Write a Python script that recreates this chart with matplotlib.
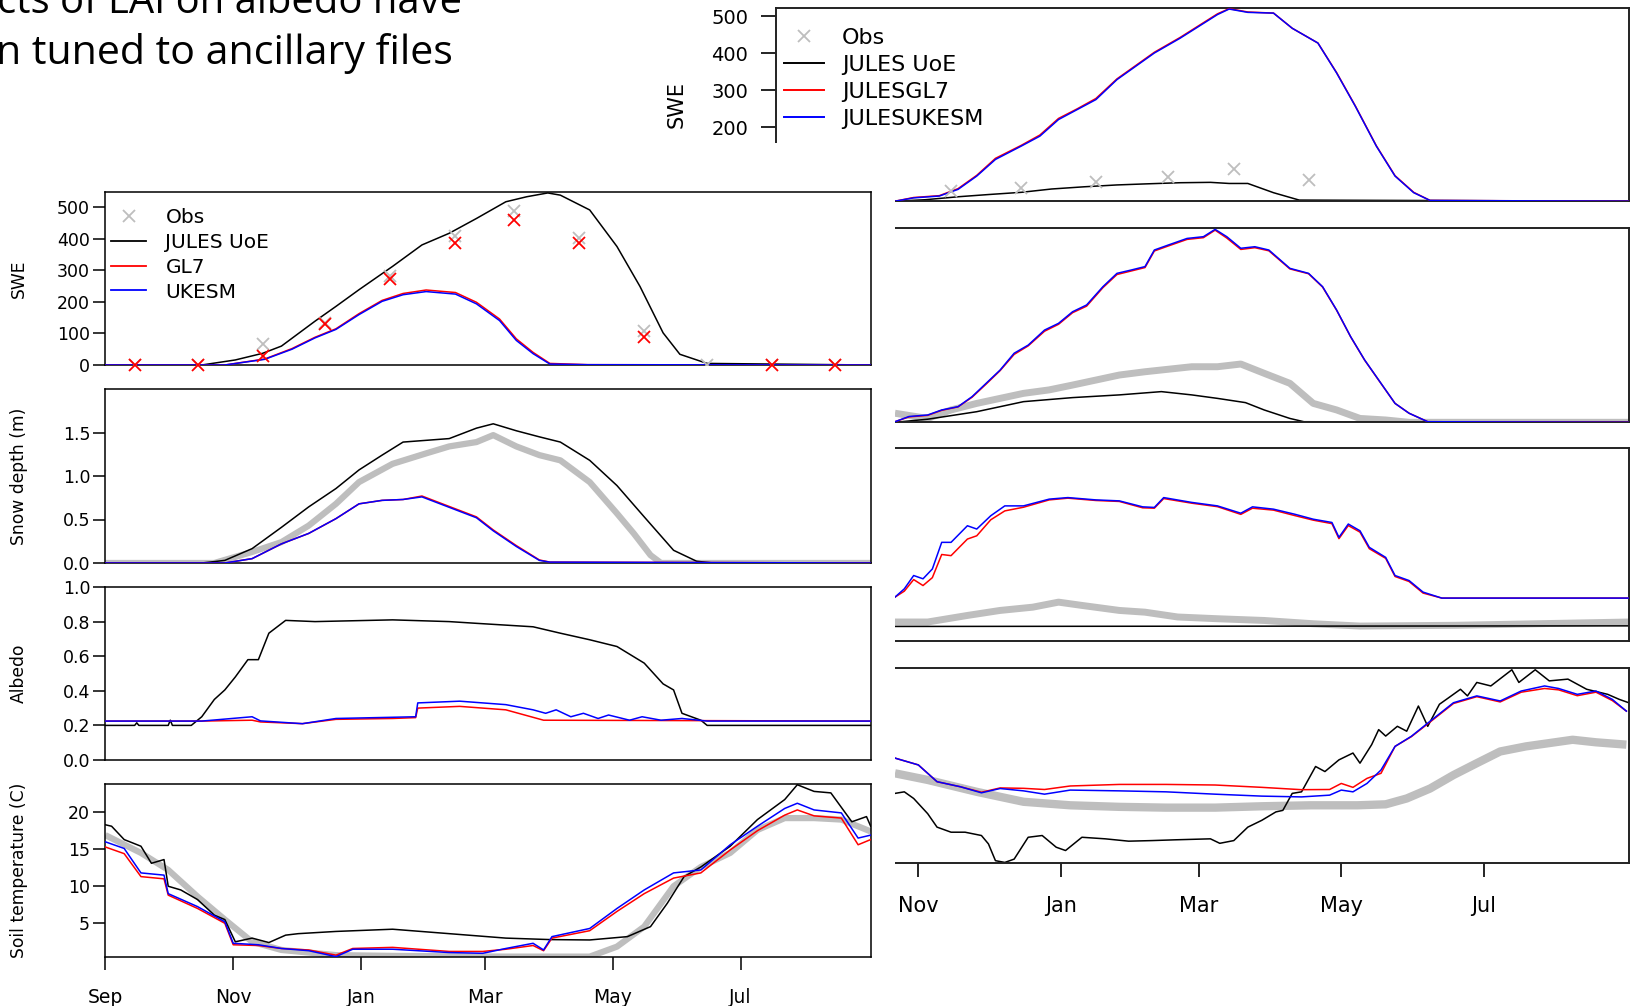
import numpy as np
import matplotlib
matplotlib.use("Agg")
import matplotlib.pyplot as plt
from matplotlib.lines import Line2D
from matplotlib.patches import Rectangle

W, H = 1635, 1006
OBS = "#bebebe"; UOE = "black"; GL7 = "#ff0000"; UKESM = "#0000ff"

# days counted from 1 Sep
MONTH_DAYS = [0, 61, 122, 181, 242, 303]
MONTH_LABELS = ["Sep", "Nov", "Jan", "Mar", "May", "Jul"]

# ---------------- left site ----------------
# SWE
L_SWE_OBS_DAYS = [14, 44, 75, 105, 136, 167, 195, 226, 257, 287, 318, 348]
L_SWE_OBS = [0, 0, 67, 134, 283, 410, 489, 402, 107, 0, 0, 0]
L_SWE_OBS2 = [0, 0, 30, 130, 273, 386, 460, 386, 89, np.nan, 0, 0]
L_SWE_UOE_DAYS = [0, 46, 62, 75, 84, 100, 110, 121, 137, 151, 164, 177, 191, 201, 211,
                  217, 231, 244, 255, 266, 274, 287, 365]
L_SWE_UOE = [0, 0, 16, 37, 60, 139, 186, 239, 313, 381, 418, 465, 518, 534, 546,
             539, 492, 376, 249, 102, 34, 5, 0]
L_SWE_MOD_DAYS = [0, 57, 76, 89, 100, 110, 121, 132, 142, 153, 167, 177, 188, 196, 204,
                  212, 230, 365]
L_SWE_GL7 = [0, 0, 19, 52, 88, 115, 163, 205, 227, 238, 230, 199, 146, 83, 40, 5, 1, 0]
L_SWE_UKESM = [0, 0, 18, 50, 86, 113, 160, 202, 223, 233, 225, 194, 141, 78, 36, 3, 1, 0]

# snow depth (m)
L_DEP_OBS_DAYS = [0, 52, 70, 84, 97, 110, 121, 137, 153, 164, 177, 185, 196, 207, 217,
                  231, 244, 252, 260, 265, 365]
L_DEP_OBS = [0, 0, 0.127, 0.24, 0.43, 0.68, 0.93, 1.14, 1.26, 1.34, 1.39, 1.47, 1.34,
             1.24, 1.18, 0.93, 0.57, 0.34, 0.09, 0, 0]
L_DEP_UOE_DAYS = [0, 46, 57, 70, 84, 97, 110, 121, 132, 142, 153, 164, 177, 185, 196,
                  207, 217, 231, 244, 257, 271, 282, 290, 365]
L_DEP_UOE = [0, 0, 0.03, 0.165, 0.41, 0.645, 0.856, 1.07, 1.24, 1.39, 1.41, 1.43, 1.55,
             1.60, 1.52, 1.45, 1.39, 1.18, 0.89, 0.53, 0.146, 0.02, 0, 0]
L_DEP_MOD_DAYS = [0, 57, 70, 84, 97, 110, 121, 132, 142, 151, 164, 177, 185, 196, 207,
                  212, 365]
L_DEP_GL7 = [0, 0, 0.05, 0.22, 0.34, 0.51, 0.68, 0.72, 0.73, 0.77, 0.65, 0.53, 0.38,
             0.20, 0.035, 0.01, 0]
L_DEP_UKESM = [0, 0, 0.05, 0.22, 0.34, 0.51, 0.68, 0.72, 0.73, 0.76, 0.64, 0.52, 0.37,
               0.19, 0.03, 0.01, 0]

# albedo
L_ALB_UOE_DAYS = [0, 14, 15, 16, 30, 31, 32, 41, 46, 52, 57, 62, 68, 73, 78, 86, 100,
                  137, 164, 177, 204, 217, 231, 244, 257, 266, 271, 275, 284, 287, 365]
L_ALB_UOE = [0.2, 0.2, 0.215, 0.2, 0.2, 0.23, 0.2, 0.2, 0.25, 0.35, 0.405, 0.48, 0.58,
             0.58, 0.733, 0.807, 0.80, 0.81, 0.80, 0.79, 0.77, 0.733, 0.695, 0.656,
             0.56, 0.44, 0.405, 0.27, 0.23, 0.2, 0.2]
L_ALB_UKESM_DAYS = [0, 46, 70, 74, 94, 110, 137, 148, 149, 169, 191, 204, 210, 215, 222,
                    228, 235, 240, 250, 256, 265, 275, 287, 365]
L_ALB_UKESM = [0.225, 0.225, 0.25, 0.226, 0.21, 0.24, 0.247, 0.25, 0.33, 0.34, 0.32,
               0.29, 0.27, 0.29, 0.25, 0.27, 0.24, 0.26, 0.23, 0.25, 0.23, 0.24, 0.225,
               0.225]
L_ALB_GL7_DAYS = [0, 46, 70, 74, 94, 110, 137, 148, 149, 169, 191, 200, 209, 365]
L_ALB_GL7 = [0.225, 0.225, 0.23, 0.22, 0.21, 0.235, 0.24, 0.245, 0.30, 0.31, 0.29,
             0.26, 0.23, 0.225]

# soil temperature (C)
L_TS_OBS_DAYS = [0, 17, 30, 44, 57, 70, 84, 110, 137, 191, 231, 244, 257, 271, 284, 298,
                 311, 324, 338, 351, 365]
L_TS_OBS = [16.9, 14.5, 12.2, 8.6, 5.5, 2.5, 1.4, 0.7, 0.6, 0.5, 0.5, 1.85, 4.55, 10.0,
            12.6, 14.5, 17.6, 19.2, 19.2, 19.0, 17.4]
L_TS_UOE_DAYS = [0, 3, 9, 17, 22, 28, 30, 36, 44, 52, 57, 62, 70, 78, 86, 92, 110, 137,
                 164, 191, 212, 231, 249, 260, 268, 276, 284, 298, 311, 324, 330, 338,
                 346, 356, 363, 365]
L_TS_UOE = [18.3, 18.1, 16.3, 15.4, 13.1, 13.6, 10.0, 9.5, 8.2, 6.1, 5.5, 2.5, 3.0, 2.4,
            3.4, 3.6, 3.9, 4.2, 3.6, 3.0, 2.8, 2.75, 3.2, 4.55, 7.7, 11.3, 12.6, 15.4,
            19.0, 21.7, 23.7, 22.8, 22.6, 18.7, 19.4, 18.1]
L_TS_MOD_DAYS = [0, 9, 17, 28, 30, 44, 57, 61, 73, 84, 97, 110, 118, 137, 164, 180, 191,
                 204, 209, 213, 231, 244, 257, 271, 284, 298, 311, 324, 330, 338, 351,
                 359, 365]
L_TS_UKESM = [16.0, 15.1, 11.8, 11.5, 9.0, 7.25, 5.2, 2.3, 2.1, 1.6, 1.3, 0.5, 1.5, 1.5,
              1.05, 0.95, 1.6, 2.3, 1.4, 3.2, 4.3, 7.0, 9.5, 11.8, 12.2, 15.6, 18.1,
              20.5, 21.2, 20.3, 19.9, 16.5, 16.9]
L_TS_GL7 = [15.3, 14.4, 11.3, 11.0, 8.8, 7.0, 5.0, 2.1, 2.0, 1.6, 1.4, 0.7, 1.6, 1.75,
            1.2, 1.2, 1.5, 2.0, 1.3, 3.0, 4.0, 6.6, 9.0, 11.1, 11.8, 14.9, 17.5, 19.6,
            20.3, 19.5, 19.2, 15.6, 16.3]

# ---------------- right site ----------------
R_SWE_OBS_DAYS = [75, 105, 137, 168, 196, 228]
R_SWE_OBS = [27, 35, 51, 65, 88, 57]
R_SWE_UOE_DAYS = [0, 51, 64, 78, 91, 105, 118, 132, 146, 159, 173, 186, 194, 202, 213,
                  224, 365]
R_SWE_UOE = [0, 0, 4, 12, 18, 24, 33, 39, 44, 47, 50, 51, 48, 48, 23, 3, 0]
R_SWE_MOD_DAYS = [0, 51, 59, 70, 78, 86, 94, 105, 113, 121, 129, 137, 146, 154, 162, 173,
                  181, 189, 194, 202, 213, 221, 232, 240, 248, 257, 265, 273, 280, 365]
R_SWE_GL7 = [0, 0, 10, 15, 34, 70, 116, 151, 179, 224, 250, 278, 331, 367, 403, 443, 475,
             507, 521, 512, 509, 468, 428, 348, 258, 150, 69, 24, 2, 0]
R_SWE_UKESM = [0, 0, 9, 14, 32, 68, 113, 149, 176, 221, 248, 275, 329, 365, 401, 441,
               473, 505, 520, 511, 509, 468, 428, 347, 257, 149, 68, 23, 2, 0]

R_DEP_OBS_DAYS = [51, 65, 75, 86, 96, 106, 117, 127, 137, 147, 158, 168, 178, 189, 199,
                  209, 220, 230, 240, 250, 261, 271, 365]
R_DEP_OBS = [0.047, 0.02, 0.064, 0.098, 0.124, 0.15, 0.168, 0.193, 0.219, 0.245, 0.262,
             0.275, 0.288, 0.288, 0.302, 0.254, 0.202, 0.098, 0.064, 0.02, 0.012, 0, 0]
R_DEP_UOE_DAYS = [51, 65, 86, 106, 127, 147, 165, 178, 189, 201, 209, 220, 226, 365]
R_DEP_UOE = [0, 0.016, 0.055, 0.107, 0.128, 0.142, 0.159, 0.142, 0.124, 0.102, 0.064,
             0.02, 0.003, 0]
R_DEP_MOD_DAYS = [51, 57, 65, 71, 78, 84, 90, 96, 102, 108, 115, 121, 127, 133, 140, 146,
                  152, 158, 162, 168, 176, 183, 188, 193, 199, 205, 211, 220, 228, 234,
                  240, 246, 252, 259, 265, 271, 279, 365]
R_DEP_UKESM = [0.003, 0.03, 0.038, 0.064, 0.081, 0.133, 0.202, 0.271, 0.358, 0.40, 0.478,
               0.513, 0.573, 0.608, 0.703, 0.772, 0.789, 0.807, 0.893, 0.919, 0.953,
               0.962, 1.0, 0.962, 0.902, 0.91, 0.893, 0.798, 0.772, 0.703, 0.582, 0.444,
               0.323, 0.202, 0.098, 0.047, 0.003, 0]
R_DEP_GL7 = [0.003, 0.028, 0.036, 0.062, 0.08, 0.13, 0.198, 0.268, 0.352, 0.396, 0.472,
             0.508, 0.568, 0.602, 0.698, 0.766, 0.784, 0.802, 0.888, 0.914, 0.948, 0.957,
             0.996, 0.955, 0.896, 0.905, 0.889, 0.795, 0.77, 0.701, 0.581, 0.443, 0.322,
             0.201, 0.098, 0.047, 0.003, 0]

R_ALB_OBS_DAYS = [51, 65, 82, 96, 110, 121, 131, 147, 158, 172, 189, 209, 230, 250, 291,
                  365]
R_ALB_OBS = [0.10, 0.10, 0.134, 0.16, 0.177, 0.203, 0.186, 0.16, 0.151, 0.126, 0.117,
             0.108, 0.091, 0.079, 0.083, 0.10]
R_ALB_UOE_DAYS = [51, 365]
R_ALB_UOE = [0.077, 0.080]
R_ALB_MOD_DAYS = [51, 55, 59, 63, 67, 71, 75, 82, 86, 92, 98, 106, 117, 125, 137, 147,
                  157, 162, 166, 178, 189, 199, 204, 213, 222, 230, 238, 241, 245, 250,
                  254, 261, 265, 271, 277, 285, 365]
R_ALB_UKESM = [0.229, 0.272, 0.341, 0.324, 0.375, 0.513, 0.513, 0.599, 0.582, 0.651,
               0.702, 0.702, 0.737, 0.745, 0.733, 0.728, 0.697, 0.694, 0.745, 0.72,
               0.702, 0.664, 0.697, 0.685, 0.659, 0.633, 0.616, 0.539, 0.608, 0.573,
               0.487, 0.435, 0.341, 0.315, 0.255, 0.224, 0.224]
R_ALB_GL7 = [0.229, 0.26, 0.32, 0.289, 0.33, 0.45, 0.444, 0.53, 0.547, 0.63, 0.676,
             0.695, 0.733, 0.742, 0.73, 0.725, 0.692, 0.69, 0.74, 0.716, 0.698, 0.658,
             0.69, 0.68, 0.652, 0.628, 0.61, 0.532, 0.6, 0.566, 0.48, 0.43, 0.336, 0.31,
             0.25, 0.224, 0.224]

R_TS_OBS_DAYS = [51, 65, 86, 106, 126, 147, 167, 188, 208, 229, 249, 261, 270, 280, 290,
                 300, 310, 321, 331, 341, 351, 364]
R_TS_OBS = [0.462, 0.428, 0.367, 0.316, 0.298, 0.29, 0.286, 0.286, 0.293, 0.298, 0.298,
            0.303, 0.333, 0.384, 0.453, 0.514, 0.574, 0.60, 0.617, 0.634, 0.621, 0.609]
R_TS_UOE_DAYS = [51, 55, 59, 65, 69, 75, 81, 88, 91, 94, 98, 102, 108, 114, 120, 124, 131,
                 141, 151, 161, 171, 186, 190, 196, 202, 208, 214, 217, 221, 225, 231,
                 235, 241, 247, 250, 255, 258, 261, 266, 270, 275, 279, 284, 288, 293,
                 296, 300, 306, 315, 318, 325, 331, 339, 347, 356, 361, 365]
R_TS_UOE = [0.359, 0.367, 0.333, 0.255, 0.186, 0.16, 0.16, 0.143, 0.10, 0.014, 0.005,
            0.022, 0.134, 0.143, 0.083, 0.066, 0.134, 0.126, 0.114, 0.117, 0.121, 0.126,
            0.103, 0.117, 0.186, 0.221, 0.264, 0.272, 0.359, 0.367, 0.497, 0.471, 0.531,
            0.566, 0.514, 0.609, 0.686, 0.653, 0.703, 0.678, 0.807, 0.703, 0.816, 0.85,
            0.893, 0.859, 0.928, 0.91, 0.993, 0.928, 0.993, 0.936, 0.945, 0.893, 0.867,
            0.841, 0.824]
R_TS_MOD_DAYS = [51, 61, 69, 79, 88, 96, 106, 115, 126, 147, 167, 188, 208, 225, 237,
                 242, 247, 253, 259, 265, 272, 280, 290, 300, 310, 319, 329, 335, 343,
                 351, 358, 364]
R_TS_UKESM = [0.54, 0.505, 0.419, 0.393, 0.362, 0.384, 0.372, 0.355, 0.376, 0.372,
              0.367, 0.355, 0.345, 0.341, 0.35, 0.376, 0.367, 0.41, 0.479, 0.60, 0.652,
              0.729, 0.824, 0.859, 0.833, 0.884, 0.91, 0.897, 0.867, 0.884, 0.841, 0.781]
R_TS_GL7 = [0.54, 0.505, 0.419, 0.393, 0.365, 0.387, 0.385, 0.379, 0.397, 0.405, 0.405,
            0.402, 0.39, 0.378, 0.379, 0.41, 0.39, 0.436, 0.462, 0.60, 0.65, 0.725, 0.82,
            0.855, 0.828, 0.878, 0.897, 0.89, 0.86, 0.878, 0.835, 0.781]

plt.rcParams["font.family"] = "DejaVu Sans"
fig = plt.figure(figsize=(W / 100, H / 100), dpi=100)


def box(x0, y0, x1, y1):
    # pixel box (top-left origin) -> figure fraction rect
    return [x0 / W, 1 - y1 / H, (x1 - x0) / W, (y1 - y0) / H]


def panel(rect, ylim, spine_lw=1.1, spine_col="black", z=0):
    ax = fig.add_axes(rect)
    ax.set_zorder(z)
    ax.set_xlim(0, 365)
    ax.set_ylim(*ylim)
    for s in ax.spines.values():
        s.set_linewidth(spine_lw)
        s.set_color(spine_col)
    ax.tick_params(bottom=False, labelbottom=False)
    return ax


def lines(ax, obs, uoe, gl7, ukesm, obs_lw=4.5):
    if obs is not None:
        ax.plot(obs[0], obs[1], color=OBS, lw=obs_lw, solid_capstyle="butt", zorder=1)
    ax.plot(uoe[0], uoe[1], color=UOE, lw=1.1, zorder=2)
    ax.plot(gl7[0], gl7[1], color=GL7, lw=1.1, zorder=3)
    ax.plot(ukesm[0], ukesm[1], color=UKESM, lw=1.1, zorder=4)


# ---------- right figure (drawn first, partly hidden) ----------
RX0, RX1 = 775.8, 1628.7
r_swe = panel(box(RX0, 8.3, RX1, 201.2), (0, 522), 1.4, "#222222")
r_dep = panel(box(RX0, 228.4, RX1, 422.3), (0, 1.005), 1.4, "#222222")
r_alb = panel(box(RX0, 448.4, RX1, 641.3), (0, 1.0), 1.4, "#222222")
r_ts = panel(box(RX0, 668.4, RX1, 863.4), (0, 1.0), 1.4, "#222222")

r_swe.plot(R_SWE_OBS_DAYS, R_SWE_OBS, ls="none", marker="x", ms=9, mew=1.3, color=OBS, zorder=5)
lines(r_swe, None, (R_SWE_UOE_DAYS, R_SWE_UOE), (R_SWE_MOD_DAYS, R_SWE_GL7),
      (R_SWE_MOD_DAYS, R_SWE_UKESM))
lines(r_dep, (R_DEP_OBS_DAYS, R_DEP_OBS), (R_DEP_UOE_DAYS, R_DEP_UOE),
      (R_DEP_MOD_DAYS, R_DEP_GL7), (R_DEP_MOD_DAYS, R_DEP_UKESM), 5)
lines(r_alb, (R_ALB_OBS_DAYS, R_ALB_OBS), (R_ALB_UOE_DAYS, R_ALB_UOE),
      (R_ALB_MOD_DAYS, R_ALB_GL7), (R_ALB_MOD_DAYS, R_ALB_UKESM), 5)
lines(r_ts, (R_TS_OBS_DAYS, R_TS_OBS), (R_TS_UOE_DAYS, R_TS_UOE),
      (R_TS_MOD_DAYS, R_TS_GL7), (R_TS_MOD_DAYS, R_TS_UKESM), 6)

r_swe.set_yticks([0, 100, 200, 300, 400, 500])
r_swe.tick_params(axis="y", labelsize=14, length=10.8, width=1.2, pad=9)
r_swe.set_ylabel("SWE", fontsize=15)
r_swe.yaxis.set_label_coords(-0.104, 0.5)
for ax in (r_dep, r_alb, r_ts):
    ax.tick_params(left=False, labelleft=False)
r_ts.set_xticks(MONTH_DAYS, MONTH_LABELS)
r_ts.tick_params(axis="x", bottom=True, labelbottom=True, labelsize=15, length=10,
                 width=1.2, pad=13.5)

r_leg = [Line2D([], [], ls="none", marker="x", ms=9, mew=1.3, color=OBS),
         Line2D([], [], color=UOE, lw=1.4), Line2D([], [], color=GL7, lw=1.4),
         Line2D([], [], color=UKESM, lw=1.4)]
r_swe.legend(r_leg, ["Obs", "JULES UoE", "JULESGL7", "JULESUKESM"], loc="upper left",
             bbox_to_anchor=(784 / W, 1 - 28 / H), bbox_transform=fig.transFigure,
             frameon=False, fontsize=16, borderpad=0, borderaxespad=0,
             handlelength=1.8, handletextpad=0.8, labelspacing=0.31)

# white background of the pasted left figure
fig.add_artist(Rectangle((0, 0), 895 / W, 1 - 143 / H, transform=fig.transFigure,
                         facecolor="white", edgecolor="none", zorder=1))

# ---------- left figure ----------
LX0, LX1 = 105.3, 870.7
l_swe = panel(box(LX0, 192, LX1, 365), (0, 549), z=2)
l_dep = panel(box(LX0, 389, LX1, 563), (0, 2.0), z=2)
l_alb = panel(box(LX0, 587, LX1, 760), (0, 1.0), z=2)
l_ts = panel(box(LX0, 784, LX1, 957), (0.45, 23.8), z=2)

l_swe.plot(L_SWE_OBS_DAYS, L_SWE_OBS, ls="none", marker="x", ms=8, mew=1.3, color=OBS, zorder=5)
lines(l_swe, None, (L_SWE_UOE_DAYS, L_SWE_UOE), (L_SWE_MOD_DAYS, L_SWE_GL7),
      (L_SWE_MOD_DAYS, L_SWE_UKESM))
l_swe.plot(L_SWE_OBS_DAYS, L_SWE_OBS2, ls="none", marker="x", ms=8, mew=1.3, color=GL7,
           zorder=6, clip_on=False)
lines(l_dep, (L_DEP_OBS_DAYS, L_DEP_OBS), (L_DEP_UOE_DAYS, L_DEP_UOE),
      (L_DEP_MOD_DAYS, L_DEP_GL7), (L_DEP_MOD_DAYS, L_DEP_UKESM))
lines(l_alb, None, (L_ALB_UOE_DAYS, L_ALB_UOE), (L_ALB_GL7_DAYS, L_ALB_GL7),
      (L_ALB_UKESM_DAYS, L_ALB_UKESM))
lines(l_ts, (L_TS_OBS_DAYS, L_TS_OBS), (L_TS_UOE_DAYS, L_TS_UOE),
      (L_TS_MOD_DAYS, L_TS_GL7), (L_TS_MOD_DAYS, L_TS_UKESM))

l_swe.set_yticks([0, 100, 200, 300, 400, 500])
l_dep.set_yticks([0, 0.5, 1.0, 1.5], ["0.0", "0.5", "1.0", "1.5"])
l_alb.set_yticks([0, 0.2, 0.4, 0.6, 0.8, 1.0], ["0.0", "0.2", "0.4", "0.6", "0.8", "1.0"])
l_ts.set_yticks([5, 10, 15, 20])
for ax, lab in zip((l_swe, l_dep, l_alb, l_ts),
                   ("SWE", "Snow depth (m)", "Albedo", "Soil temperature (C)")):
    ax.tick_params(axis="y", labelsize=12.5, length=8.4, width=1.1, pad=2.5)
    ax.set_ylabel(lab, fontsize=12.3)
    ax.yaxis.set_label_coords(-0.101, 0.5)
l_ts.set_xticks(MONTH_DAYS, MONTH_LABELS)
l_ts.tick_params(axis="x", bottom=True, labelbottom=True, labelsize=13.5, length=9.4,
                 width=1.1, pad=13)

l_leg = [Line2D([], [], ls="none", marker="x", ms=8, mew=1.3, color=OBS),
         Line2D([], [], color=UOE, lw=1.3), Line2D([], [], color=GL7, lw=1.3),
         Line2D([], [], color=UKESM, lw=1.3)]
l_swe.legend(l_leg, ["Obs", "JULES UoE", "GL7", "UKESM"], loc="upper left",
             bbox_to_anchor=(111 / W, 1 - 208 / H), bbox_transform=fig.transFigure,
             frameon=False, fontsize=14.5, borderpad=0, borderaxespad=0,
             handlelength=1.75, handletextpad=0.95, labelspacing=0.29)

# ---------- slide text behind the plots ----------
SLIDE_FONT = ["Liberation Sans Narrow", "Open Sans"]
t1 = fig.text(462 / W, 1 - 13 / H, "cts of LAI on albedo have", ha="right", va="baseline",
              fontsize=30, family=SLIDE_FONT, zorder=3)
t2 = fig.text(453 / W, 1 - 64 / H, "n tuned to ancillary files", ha="right", va="baseline",
              fontsize=30, family=SLIDE_FONT, zorder=3)
fig.canvas.draw()
rend = fig.canvas.get_renderer()
for t, width in ((t1, 466), (t2, 457)):
    t.set_fontsize(30 * width / t.get_window_extent(rend).width)

fig.savefig("out.png", dpi=100, facecolor="white")
